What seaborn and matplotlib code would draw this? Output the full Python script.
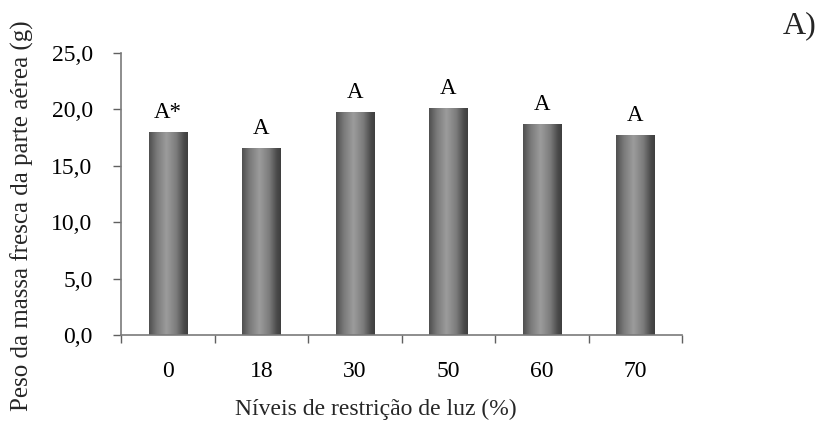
import matplotlib
matplotlib.use("Agg")
import matplotlib.pyplot as plt
from matplotlib.colors import LinearSegmentedColormap
import numpy as np
import pandas as pd
import seaborn as sns

# Data: fresh shoot mass by light restriction level
niveis = ["0", "18", "30", "50", "60", "70"]
peso = [18.0, 16.6, 19.8, 20.1, 18.7, 17.7]
letras = ["A*", "A", "A", "A", "A", "A"]
yticks = [0, 5, 10, 15, 20, 25]

sns.set_theme(style="white")
plt.rcParams["font.family"] = ["Liberation Serif", "DejaVu Serif"]

df = pd.DataFrame({"nivel": niveis, "peso": peso})

fig = plt.figure(figsize=(8.22, 4.28), dpi=100)
ax = fig.add_axes([121 / 822, 93 / 428, (682 - 121) / 822, (335 - 53) / 428])

sns.barplot(data=df, x="nivel", y="peso", order=niveis, width=0.41,
            color="#707070", saturation=1, ax=ax, zorder=2)

# Cylinder-like shading inside each bar
shade = LinearSegmentedColormap.from_list(
    "shade", [(0.0, "#4e4e4e"), (0.2, "#7a7a7a"), (0.45, "#9c9c9c"),
              (0.7, "#7c7c7c"), (0.9, "#4a4a4a"), (1.0, "#3e3e3e")])
grad = np.linspace(0, 1, 256).reshape(1, -1)
for p in ax.patches:
    x0, y0 = p.get_x(), p.get_y()
    w, h = p.get_width(), p.get_height()
    p.set_facecolor("none")
    p.set_edgecolor("none")
    im = ax.imshow(grad, cmap=shade, aspect="auto",
                   extent=[x0, x0 + w, y0, y0 + h], zorder=2,
                   interpolation="bicubic")
    im.set_clip_path(p)

ax.set_xlim(-0.5, len(niveis) - 0.5)
ax.set_ylim(0, 25)

# Significance letters above bars
for i, (v, t) in enumerate(zip(peso, letras)):
    ax.annotate(t, xy=(i, v), xytext=(0, 6.5), textcoords="offset points",
                ha="center", va="bottom", fontsize=16.5, color="black")

ax.set_yticks(yticks)
ax.set_yticklabels([f"{v:.1f}".replace(".", ",") for v in yticks])
ax.set_xticks(np.arange(len(niveis)))
ax.set_xticklabels(niveis)
ax.tick_params(axis="x", length=0, pad=19, labelsize=17, colors="black")
ax.tick_params(axis="y", left=True, length=6, width=1, color="#606060",
               direction="out", pad=14.4, labelsize=17, labelcolor="black")

# Category boundary ticks on the x axis
ax.set_xticks(np.arange(len(niveis) + 1) - 0.5, minor=True)
ax.tick_params(axis="x", which="minor", bottom=True, length=6, width=1,
               color="#606060", direction="out")

for s in ["top", "right"]:
    ax.spines[s].set_visible(False)
for s in ["left", "bottom"]:
    ax.spines[s].set_color("#7a7a7a")
    ax.spines[s].set_linewidth(1.2)
    ax.spines[s].set_zorder(3)

ax.set_xlabel("Níveis de restrição de luz (%)", fontsize=17)
ax.set_ylabel("Peso da massa fresca da parte aérea (g)", fontsize=18)
ax.xaxis.set_label_coords(0.455, -0.225)
ax.yaxis.set_label_coords(-0.155, 0.422)

fig.text(800 / 822, 1 - 26 / 428, "A)", fontsize=23, ha="center", va="center")

fig.savefig("out.png", dpi=100)
